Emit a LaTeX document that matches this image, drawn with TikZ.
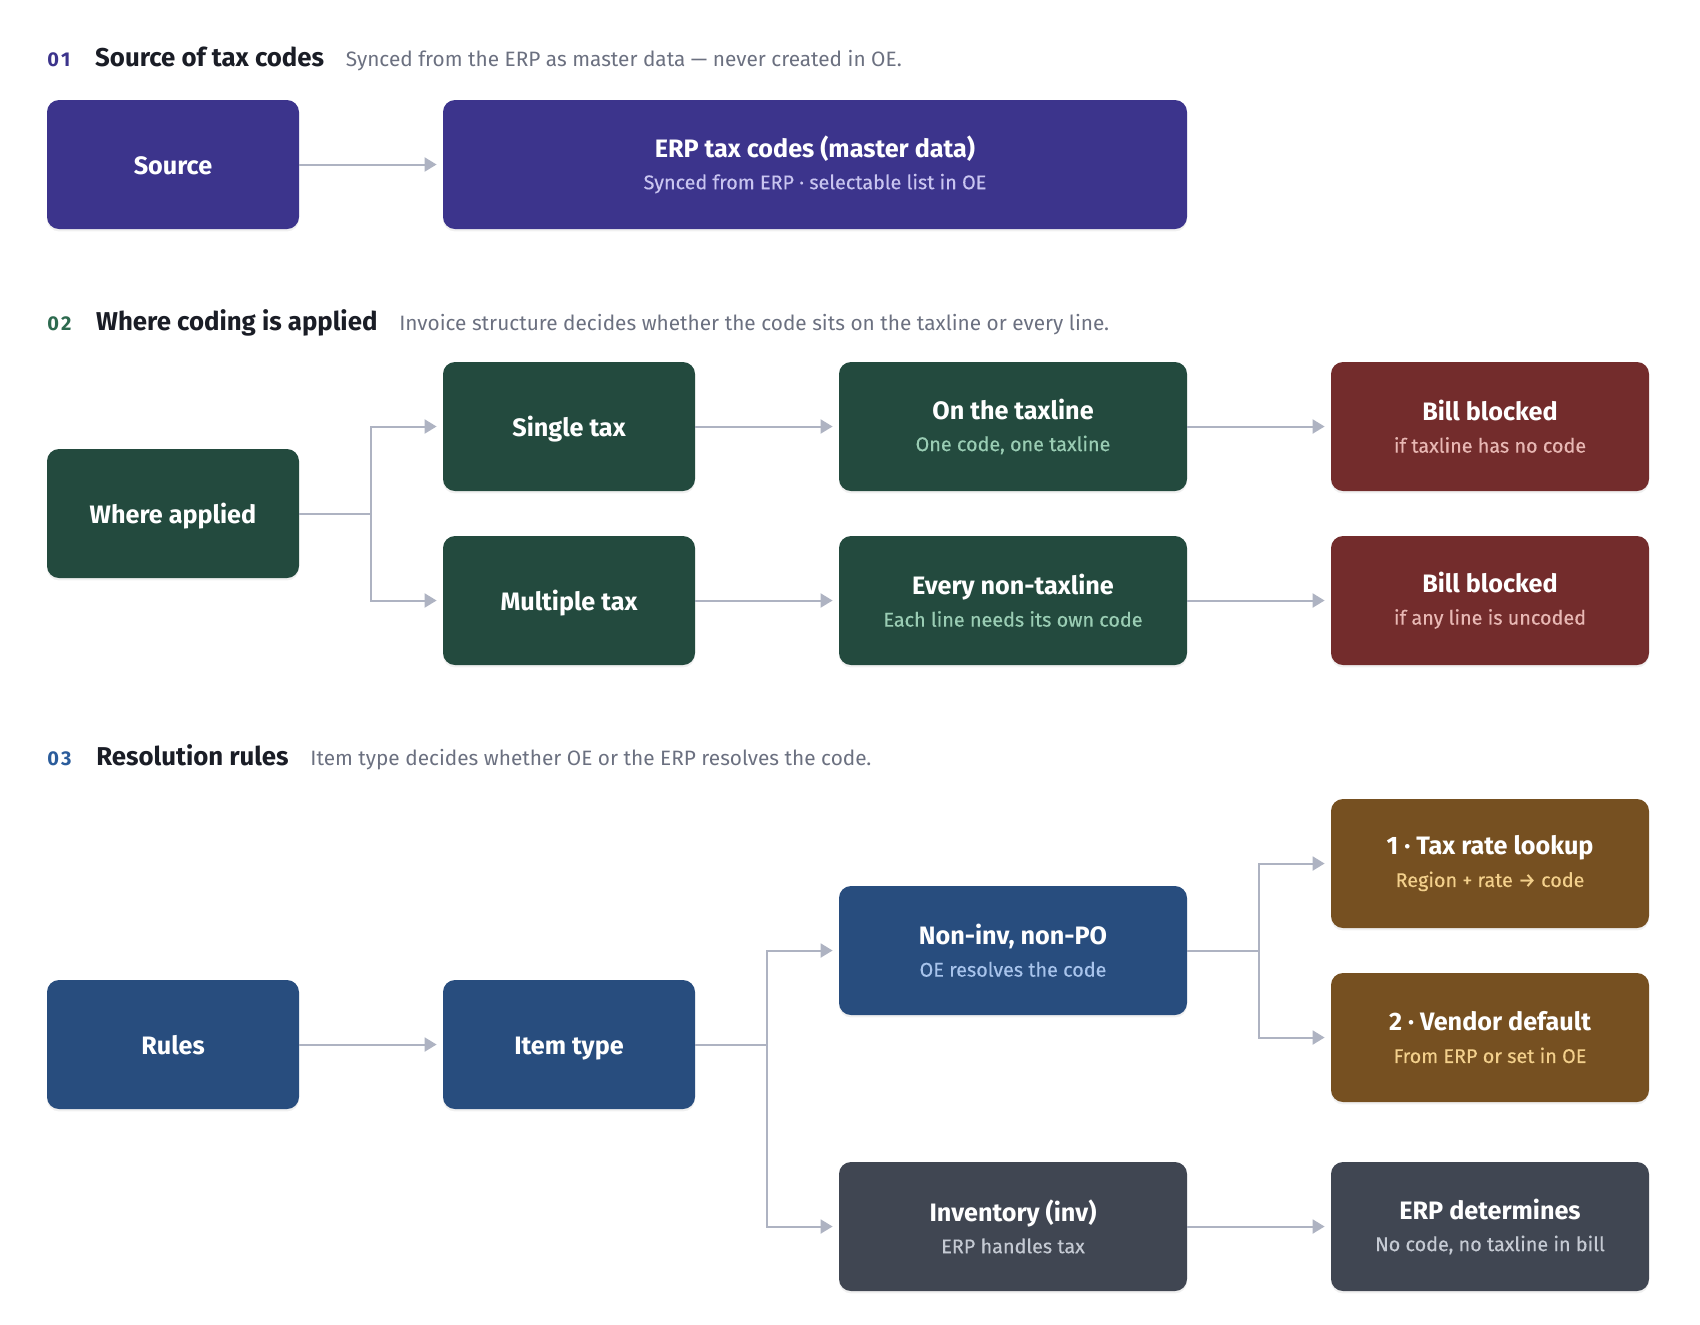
\documentclass[tikz,border=0pt]{standalone}
\usepackage{fontspec}
\setmainfont{Fira Sans}
\newfontfamily\subfont[FakeBold=0.35]{Fira Sans}
\usetikzlibrary{arrows.meta,positioning,shadows}

\definecolor{purp}{HTML}{3C348C}
\definecolor{purpsub}{HTML}{C9C5F0}
\definecolor{grn}{HTML}{234A3E}
\definecolor{grnsub}{HTML}{9ACDB4}
\definecolor{rd}{HTML}{732C2C}
\definecolor{rdsub}{HTML}{E8B8B4}
\definecolor{blu}{HTML}{284D7E}
\definecolor{blusub}{HTML}{A8C4EC}
\definecolor{brn}{HTML}{765021}
\definecolor{brnsub}{HTML}{F3D08C}
\definecolor{slt}{HTML}{404652}
\definecolor{sltsub}{HTML}{C5CAD3}
\definecolor{linec}{HTML}{AEB3C2}
\definecolor{ink}{HTML}{1A1D26}
\definecolor{mute}{HTML}{6B7080}
\definecolor{num2}{HTML}{2D6A4F}
\definecolor{num3}{HTML}{2B5C9B}

\newcommand\two[2]{#1\\{\subfont\mdseries\fontsize{9.9}{11}\selectfont\color{subtx}#2}}

\begin{document}
\begin{tikzpicture}[x=0.5pt,y=-0.5pt,
  box/.style={rounded corners=6pt, minimum height=64.5pt, align=center, text=white,
    inner sep=0pt, font=\bfseries\fontsize{12.6}{16}\selectfont,
    drop shadow={opacity=0.12, shadow xshift=0pt, shadow yshift=-1.2pt}},
  one/.style={text height=10pt, text depth=0pt},
  narrow/.style={box, minimum width=126pt},
  mid/.style={box, minimum width=174pt},
  wide/.style={box, minimum width=159pt},
  purpbox/.style={fill=purp, execute at begin node={\colorlet{subtx}{purpsub}}},
  grnbox/.style={fill=grn, execute at begin node={\colorlet{subtx}{grnsub}}},
  rdbox/.style={fill=rd, execute at begin node={\colorlet{subtx}{rdsub}}},
  blubox/.style={fill=blu, execute at begin node={\colorlet{subtx}{blusub}}},
  brnbox/.style={fill=brn, execute at begin node={\colorlet{subtx}{brnsub}}},
  sltbox/.style={fill=slt, execute at begin node={\colorlet{subtx}{sltsub}}},
  secnum/.style={inner sep=0pt, anchor=base west, font=\bfseries\fontsize{10}{12}\selectfont},
  sectitle/.style={inner sep=0pt, text=ink, font=\bfseries\fontsize{12.9}{15}\selectfont},
  secsub/.style={inner sep=0pt, text=mute, font=\fontsize{10.4}{12}\selectfont},
  link/.style={draw=linec, line width=1pt},
  arr/.style={link, -{Triangle[length=6pt,width=7pt]}, shorten >=3pt}]

\useasboundingbox (0,0) rectangle (1700,1324);

%%%%% 01 source of tax codes
\node[secnum, text=purp] (n1) at (47,66) {0\kern1pt1};
\node[sectitle, base right=12pt of n1] (t1) {Source of tax codes};
\node[secsub, base right=10.5pt of t1] (s1) {Synced from the ERP as master data — never created in OE.};

\node[narrow, one, purpbox] (src) at (173,164.5) {Source};
\node[box, purpbox, minimum width=372pt] (erp) at (815,164.5) {\two{ERP tax codes (master data)}{Synced from ERP · selectable list in OE}};

\draw[arr] (src) -- (erp);

%%%%% 02 where coding is applied
\node[secnum, text=num2] (n2) at (47,330) {0\kern1pt2};
\node[sectitle, base right=12pt of n2] (t2) {Where coding is applied};
\node[secsub, base right=10.5pt of t2] (s2) {Invoice structure decides whether the code sits on the taxline or every line.};

\node[narrow, one, grnbox] (wa) at (173,513.5) {Where applied};
\node[narrow, one, grnbox] (st) at (569,426.5) {Single tax};
\node[narrow, one, grnbox] (mt) at (569,600.5) {Multiple tax};
\node[mid, grnbox] (ot) at (1013,426.5) {\two{On the taxline}{One code, one taxline}};
\node[mid, grnbox] (en) at (1013,600.5) {\two{Every non-taxline}{Each line needs its own code}};
\node[wide, rdbox] (bb1) at (1490,426.5) {\two{Bill blocked}{if taxline has no code}};
\node[wide, rdbox] (bb2) at (1490,600.5) {\two{Bill blocked}{if any line is uncoded}};

\coordinate (j2) at (371,513.5);
\draw[link] (wa) -- (j2);
\draw[arr] (j2) |- (st);
\draw[arr] (j2) |- (mt);
\draw[arr] (st) -- (ot);
\draw[arr] (mt) -- (en);
\draw[arr] (ot) -- (bb1);
\draw[arr] (en) -- (bb2);

%%%%% 03 resolution rules
\node[secnum, text=num3] (n3) at (47,765.5) {0\kern1pt3};
\node[sectitle, base right=12pt of n3] (t3) {Resolution rules};
\node[secsub, base right=10.5pt of t3] (s3) {Item type decides whether OE or the ERP resolves the code.};

\node[narrow, one, blubox] (rules) at (173,1044.5) {Rules};
\node[narrow, one, blubox] (it) at (569,1044.5) {Item type};
\node[mid, blubox] (ni) at (1013,950.5) {\two{Non-inv, non-PO}{OE resolves the code}};
\node[mid, sltbox] (inv) at (1013,1226.5) {\two{Inventory (inv)}{ERP handles tax}};
\node[wide, brnbox] (trl) at (1490,863.5) {\two{1 · Tax rate lookup}{Region + rate → code}};
\node[wide, brnbox] (vd) at (1490,1037.5) {\two{2 · Vendor default}{From ERP or set in OE}};
\node[wide, sltbox] (erpd) at (1490,1226.5) {\two{ERP determines}{No code, no taxline in bill}};

\draw[arr] (rules) -- (it);
\coordinate (j3) at (767,1044.5);
\draw[link] (it) -- (j3);
\draw[arr] (j3) |- (ni);
\draw[arr] (j3) |- (inv);
\coordinate (j4) at (1259,950.5);
\draw[link] (ni) -- (j4);
\draw[arr] (j4) |- (trl);
\draw[arr] (j4) |- (vd);
\draw[arr] (inv) -- (erpd);
\end{tikzpicture}
\end{document}
